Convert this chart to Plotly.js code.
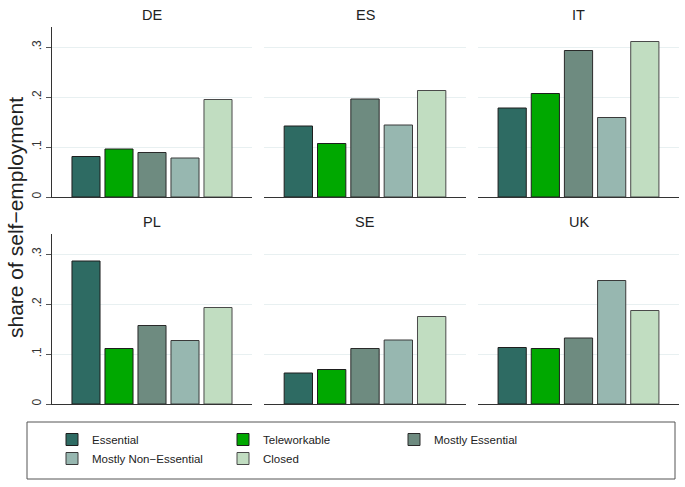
<!DOCTYPE html>
<html>
<head>
<meta charset="utf-8">
<script src="https://cdn.plot.ly/plotly-3.0.1.min.js"></script>
<style>html,body{margin:0;padding:0;background:#fff}#chart{width:685px;height:487px}</style>
</head>
<body>
<div id="chart"></div>
<script>
const countries = ["DE", "ES", "IT", "PL", "SE", "UK"];
const categories = ["Essential", "Teleworkable", "Mostly Essential", "Mostly Non\u2212Essential", "Closed"];
const DE = [0.081, 0.096, 0.089, 0.078, 0.195];
const ES = [0.142, 0.107, 0.196, 0.144, 0.213];
const IT = [0.178, 0.207, 0.293, 0.159, 0.311];
const PL = [0.286, 0.111, 0.157, 0.127, 0.193];
const SE = [0.062, 0.069, 0.111, 0.128, 0.175];
const UK = [0.113, 0.111, 0.132, 0.247, 0.187];
const tickValues = [0, 0.1, 0.2, 0.3];
const tickLabels = ["0", ".1", ".2", ".3"];
const yTitle = "share of self\u2212employment";

const seriesByCountry = {DE, ES, IT, PL, SE, UK};
const colors = ["#2e6b63", "#00a800", "#6e8b80", "#97b7b0", "#c1ddc1"];
const outline = ["#1e1e1e", "#1e1e1e", "#2a2a2a", "#3a3a3a", "#4a4a4a"];

const regular = "Liberation Sans, Arial, sans-serif";

const W = 685, H = 487, ML = 52, MR = 6;
const PW = W - ML - MR;
const px = v => (v - ML) / PW;      // pixel x -> paper
const py = v => (H - v) / H;        // pixel y -> paper
const colPx = [[52, 252], [264, 466], [478, 679]];
const rowPx = [[27, 197], [234, 404]];
const titleY = [15, 222];

const traces = [];
const layout = {
  width: W, height: H,
  margin: {l: ML, r: MR, t: 0, b: 0},
  paper_bgcolor: "#ffffff", plot_bgcolor: "#ffffff",
  barmode: "group", bargap: 0.175, bargroupgap: 0.15,
  font: {family: regular, color: "#222"},
  showlegend: true,
  legend: {
    orientation: "h", x: 0, xanchor: "left", y: py(425), yanchor: "top",
    entrywidth: 126, font: {size: 11.5, color: "#222", family: regular},
    bgcolor: "rgba(0,0,0,0)", borderwidth: 0, traceorder: "normal"
  },
  annotations: [],
  shapes: [{
    type: "rect", xref: "paper", yref: "paper",
    x0: px(27), x1: px(675), y0: py(479), y1: py(422),
    line: {color: "#555", width: 1}, fillcolor: "rgba(0,0,0,0)", layer: "below"
  }]
};

countries.forEach((c, i) => {
  const row = Math.floor(i / 3), col = i % 3;
  const n = i + 1;
  const sfx = n === 1 ? "" : String(n);
  categories.forEach((cat, k) => {
    traces.push({
      type: "bar", x: [c], y: [seriesByCountry[c][k]], name: cat,
      legendgroup: cat, showlegend: i === 0,
      xaxis: "x" + sfx, yaxis: "y" + sfx,
      marker: {color: colors[k], line: {color: outline[k], width: 1}},
      hoverinfo: "skip"
    });
  });
  layout["xaxis" + sfx] = {
    domain: [px(colPx[col][0]), px(colPx[col][1])],
    anchor: "y" + sfx,
    showticklabels: false, ticks: "", showgrid: false, zeroline: false,
    showline: true, linecolor: "#333", linewidth: 1.2, fixedrange: true
  };
  layout["yaxis" + sfx] = {
    domain: [py(rowPx[row][1]), py(rowPx[row][0])],
    anchor: "x" + sfx,
    range: [0, 0.34], tickvals: tickValues, ticktext: tickLabels,
    showticklabels: col === 0, tickangle: -90,
    ticks: col === 0 ? "outside" : "", ticklen: 5, tickcolor: "#555", tickwidth: 1,
    tickfont: {size: 12, color: "#333", family: regular},
    showgrid: true, gridcolor: "#e8f0f1", gridwidth: 1, zeroline: false,
    showline: col === 0, linecolor: "#333", linewidth: 1.2, fixedrange: true
  };
  layout.annotations.push({
    text: c, xref: "paper", yref: "paper",
    x: (px(colPx[col][0]) + px(colPx[col][1])) / 2, y: py(titleY[row]),
    xanchor: "center", yanchor: "middle", showarrow: false,
    font: {size: 14.5, color: "#222", family: regular}
  });
});

layout.annotations.push({
  text: yTitle, xref: "paper", yref: "paper",
  x: px(15), y: py(218), xanchor: "center", yanchor: "middle",
  textangle: -90, showarrow: false, font: {size: 21, color: "#222", family: regular}
});

Plotly.newPlot("chart", traces, layout, {displayModeBar: false, staticPlot: true});
</script>
</body>
</html>
